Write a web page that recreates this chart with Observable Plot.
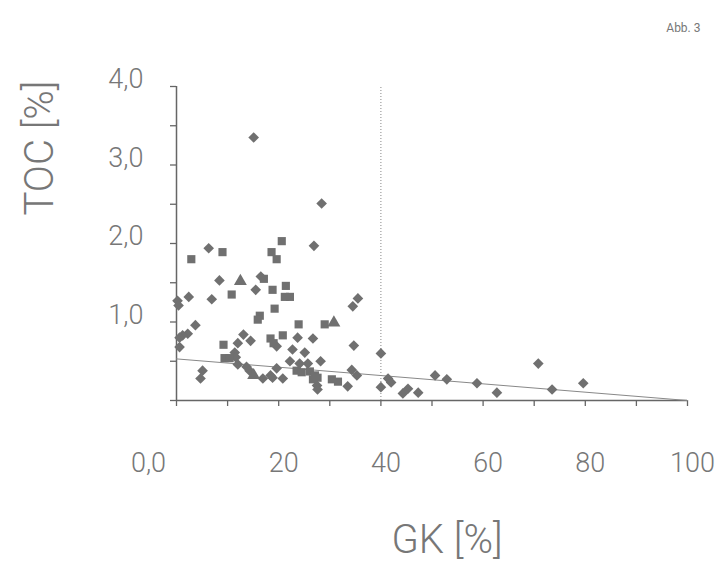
<!DOCTYPE html>
<html>
<head>
<meta charset="utf-8">
<script src="https://cdn.jsdelivr.net/npm/d3@7"></script>
<script src="https://cdn.jsdelivr.net/npm/@observablehq/plot@0.6"></script>
<style>
  html, body { margin: 0; padding: 0; background: #fff; }
  #chart { width: 718px; height: 567px; }
</style>
</head>
<body>
<div id="chart"></div>
<script>
// Diamonds
const diamondGK  = [15.1, 28.4, 26.9, 6.3, 2.4, 0.2, 0.4, 8.4, 16.5, 15.5, 6.9, 35.5, 34.5, 3.7, 2.2, 1.2, 0.6, 0.6,
  13.1, 14.5, 12.0, 11.4, 11.6, 12.0, 13.7, 14.3, 16.9, 18.4, 5.1, 4.7, 23.7, 26.7, 19.6, 22.7, 25.1, 34.7,
  22.2, 24.1, 25.7, 28.2, 19.6, 18.8, 20.8, 27.5, 27.6, 33.5, 34.3, 35.3, 40.0, 40.0, 41.4, 42.0, 44.3, 45.3,
  47.3, 50.6, 52.9, 58.8, 62.7, 70.8, 73.5, 79.6];
const diamondTOC = [3.35, 2.51, 1.97, 1.94, 1.32, 1.27, 1.21, 1.53, 1.58, 1.41, 1.29, 1.30, 1.20, 0.96, 0.85, 0.83, 0.80, 0.68,
  0.84, 0.76, 0.73, 0.61, 0.55, 0.46, 0.43, 0.38, 0.28, 0.32, 0.38, 0.28, 0.80, 0.79, 0.69, 0.65, 0.61, 0.70,
  0.50, 0.47, 0.47, 0.50, 0.41, 0.29, 0.28, 0.19, 0.14, 0.18, 0.39, 0.32, 0.60, 0.17, 0.28, 0.23, 0.09, 0.15,
  0.10, 0.32, 0.27, 0.22, 0.10, 0.47, 0.14, 0.22];
// Squares
const squareGK  = [20.6, 18.6, 19.6, 2.9, 9.0, 17.1, 10.8, 18.8, 21.4, 21.2, 22.2, 16.3, 15.9, 19.2, 23.9, 29.0,
  20.8, 18.4, 19.0, 9.2, 9.4, 10.4, 23.5, 24.5, 26.1, 27.1, 27.6, 26.7, 30.4, 31.6];
const squareTOC = [2.03, 1.89, 1.80, 1.80, 1.89, 1.55, 1.35, 1.41, 1.46, 1.32, 1.32, 1.08, 1.03, 1.17, 0.97, 0.97,
  0.83, 0.79, 0.73, 0.71, 0.54, 0.54, 0.38, 0.36, 0.37, 0.32, 0.29, 0.27, 0.27, 0.24];
// Triangles
const triangleGK  = [12.5, 30.8, 15.1];
const triangleTOC = [1.52, 0.99, 0.32];

// Trend line and threshold
const trendGK  = [0, 100];
const trendTOC = [0.53, 0];
const thresholdGK = [40];

// Tick labels
const yTicks = [1, 2, 3, 4];
const yMinorTicks = [0, 0.5, 1, 1.5, 2, 2.5, 3, 3.5, 4];
const xTicks = [0, 10, 20, 30, 40, 50, 60, 70, 80, 90, 100];
const xLabelTicks = [20, 40, 60, 80, 100];
const originLabel = "0,0";
const xTitle = "GK [%]";
const yTitle = "TOC [%]";
const figLabel = "Abb. 3";

const toRows = (xs, ys) => xs.map((x, i) => ({x, y: ys[i]}));
const diamonds = toRows(diamondGK, diamondTOC);
const squares = toRows(squareGK, squareTOC);
const triangles = toRows(triangleGK, triangleTOC);
const trend = toRows(trendGK, trendTOC);

const grey = "#707070";
const font = "Roboto, 'Open Sans', sans-serif";

const plot = Plot.plot({
  width: 718,
  height: 567,
  marginLeft: 176,
  marginRight: 31,
  marginTop: 86,
  marginBottom: 167,
  x: {domain: [0, 100], label: null},
  y: {domain: [0, 4], label: null},
  style: {fontFamily: font, fontWeight: 300, color: "#777", background: "#fff"},
  marks: [
    // minor ticks
    Plot.axisY(yMinorTicks, {tickSize: 6, tickFormat: () => "", stroke: "#666", strokeWidth: 1.3, label: null}),
    Plot.axisX(xTicks, {tickSize: 6, tickFormat: () => "", stroke: "#666", strokeWidth: 1.3, label: null}),
    // labels
    Plot.axisY(yTicks, {tickSize: 0, tickPadding: 31, dy: -7, dx: -2, fontSize: 27, fontWeight: 300,
      tickFormat: d => d.toFixed(1).replace(".", ","), label: null}),
    Plot.axisX(xLabelTicks, {tickSize: 0, tickPadding: 52, dx: 5, fontSize: 27, fontWeight: 300, label: null}),
    Plot.axisX([0], {tickSize: 0, tickPadding: 52, dx: -28, fontSize: 27, fontWeight: 300,
      tickFormat: () => originLabel, label: null}),
    // axis lines
    Plot.ruleY([0], {x1: 0, x2: 100, stroke: "#666", strokeWidth: 1.5}),
    Plot.ruleX([0], {y1: 0, y2: 4, stroke: "#666", strokeWidth: 1.5}),
    // threshold
    Plot.ruleX(thresholdGK, {y1: 0, y2: 4, stroke: "#888", strokeWidth: 1, strokeDasharray: "1,2"}),
    // trend
    Plot.line(trend, {x: "x", y: "y", stroke: "#888", strokeWidth: 1}),
    // points
    Plot.dot(diamonds, {x: "x", y: "y", symbol: "diamond2", r: 4.8, fill: grey, stroke: "none"}),
    Plot.dot(squares, {x: "x", y: "y", symbol: "square", r: 4.6, fill: grey, stroke: "none"}),
    Plot.dot(triangles, {x: "x", y: "y", symbol: "triangle", r: 4.8, fill: grey, stroke: "none"}),
    // titles
    Plot.text([xTitle], {frameAnchor: "bottom", lineAnchor: "middle", dx: 15, dy: 140, fontSize: 40, fontWeight: 300, fill: "#777"}),
    Plot.text([yTitle], {frameAnchor: "left", lineAnchor: "middle", rotate: -90, dx: -136, dy: -28, fontSize: 40, fontWeight: 300, fill: "#777"}),
    Plot.text([figLabel], {frameAnchor: "top-right", textAnchor: "end", lineAnchor: "middle", dx: 13, dy: -58, fontSize: 12, fontWeight: 400, fill: "#777"})
  ]
});
document.getElementById("chart").appendChild(plot);
</script>
</body>
</html>
